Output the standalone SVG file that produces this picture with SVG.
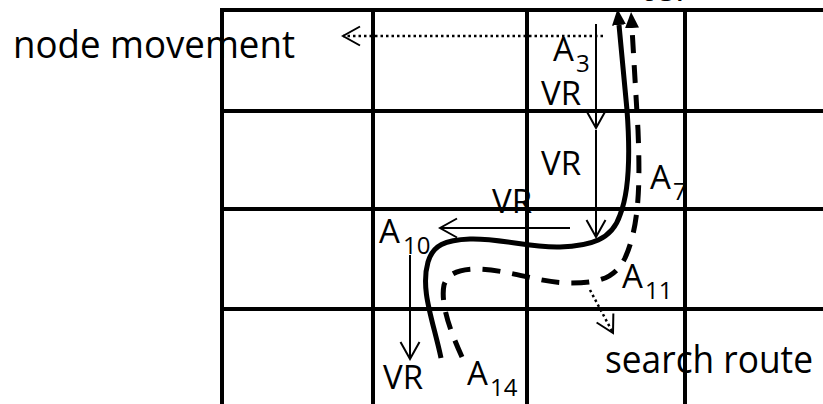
<svg xmlns="http://www.w3.org/2000/svg" width="823" height="404" viewBox="0 0 823 404">
  <style>
    .lbl { font-family: "Open Sans", "Liberation Sans", sans-serif; font-size: 33px; fill: #000; }
    .sub { font-family: "Open Sans", "Liberation Sans", sans-serif; font-size: 24px; fill: #000; }
    .big { font-family: "Open Sans", "Liberation Sans", sans-serif; font-size: 38px; fill: #000; }
    .grid { stroke: #000; stroke-width: 4; fill: none; }
    .thin { stroke: #000; stroke-width: 2; fill: none; }
    .dot { stroke: #000; stroke-width: 2.5; fill: none; stroke-dasharray: 2.5 3; }
    .route { stroke: #000; stroke-width: 5; fill: none; }
    .dash { stroke-dasharray: 18 12; }
  </style>
  <defs>
    <marker id="open" viewBox="0 0 22 22" refX="20" refY="11" markerWidth="22" markerHeight="22" markerUnits="userSpaceOnUse" orient="auto">
      <path d="M3,1.5 L20,11 L3,20.5" fill="none" stroke="#000" stroke-width="2"/>
    </marker>
    <marker id="solidHead" viewBox="0 0 16 14" refX="0" refY="7" markerWidth="16" markerHeight="14" markerUnits="userSpaceOnUse" orient="auto">
      <path d="M0,0 L16,7 L0,14 z" fill="#000"/>
    </marker>
  </defs>

  <!-- labels (drawn beneath the grid lines) -->
  <g id="labels">
    <text class="big" x="13" y="58" textLength="282" lengthAdjust="spacingAndGlyphs">node movement</text>
    <text class="big" x="605" y="373" textLength="208" lengthAdjust="spacingAndGlyphs">search route</text>
    <text class="big" x="640" y="0.5">ter</text>
    <g id="n-A3"><text class="lbl" x="553" y="61">A</text><text class="sub" x="576" y="72">3</text></g>
    <g id="n-A7"><text class="lbl" x="650" y="189">A</text><text class="sub" x="673" y="200">7</text></g>
    <g id="n-A10"><text class="lbl" x="379" y="243">A</text><text class="sub" x="403" y="254">10</text></g>
    <g id="n-A11"><text class="lbl" x="622" y="288">A</text><text class="sub" x="645" y="299">11</text></g>
    <g id="n-A14"><text class="lbl" x="467" y="385">A</text><text class="sub" x="490" y="396">14</text></g>
    <text class="lbl" x="541" y="105">VR</text>
    <text class="lbl" x="541" y="175">VR</text>
    <text class="lbl" x="492" y="213">VR</text>
    <text class="lbl" x="383" y="389">VR</text>
  </g>

  <!-- cell grid -->
  <g id="grid" class="grid">
    <path d="M222,404 V10 H823"/>
    <path d="M222,111 H823 M222,209 H823 M222,309 H823"/>
    <path d="M373,10 V404 M527,10 V404 M685,10 V404"/>
  </g>

  <g id="connectors">
    <!-- virtual routing steps -->
    <path class="thin" d="M596,24 V128" marker-end="url(#open)"/>
    <path class="thin" d="M596,130 V237" marker-end="url(#open)"/>
    <path class="thin" d="M570,228 H440" marker-end="url(#open)"/>
    <path class="thin" d="M410,255 V359" marker-end="url(#open)"/>
    <!-- node movement / search direction -->
    <path class="dot" d="M603,36 H343" marker-end="url(#open)"/>
    <path class="dot" d="M590,290 L613,333" marker-end="url(#open)"/>
    <!-- routes -->
    <path class="route" d="M441,358 C433,320 420,290 428,262 C433,245 445,240 470,239 C500,238 530,248 560,247 C590,246 612,240 620,215 C630,190 630,150 627,110 L619,25" marker-end="url(#solidHead)"/>
    <path class="route dash" d="M462,357 C452,335 440,305 444,285 C448,272 462,269 478,269 C510,270 540,283 570,283 C600,283 615,278 625,258 C640,225 640,180 638,130 L632,28" marker-end="url(#solidHead)"/>
  </g>
</svg>
